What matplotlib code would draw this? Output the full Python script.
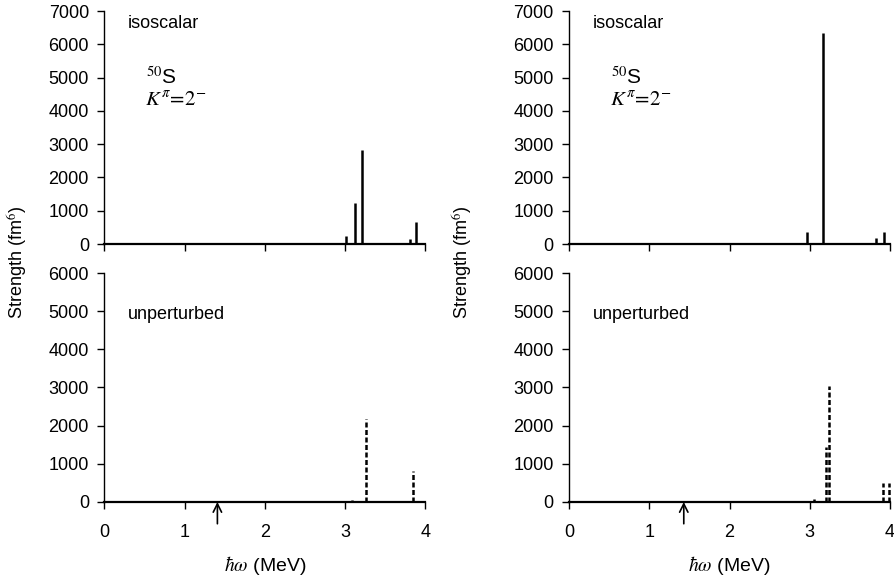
import matplotlib
matplotlib.use("Agg")
import matplotlib.pyplot as plt

plt.rcParams['font.family'] = ['Liberation Sans', 'DejaVu Sans']
plt.rcParams['mathtext.fontset'] = 'stix'

# Data (energies in MeV, strengths in fm^6)
left_top_E = [3.01, 3.13, 3.21, 3.81, 3.89]
left_top_S = [230, 1220, 2820, 140, 650]
right_top_E = [2.97, 3.17, 3.83, 3.93]
right_top_S = [350, 6330, 170, 350]
left_bot_E = [3.09, 3.26, 3.85]
left_bot_S = [50, 2170, 810]
right_bot_E = [3.05, 3.20, 3.24, 3.91, 3.99]
right_bot_S = [90, 1450, 3040, 500, 500]
arrow_E = [1.41, 1.43]

top_yticks = [0, 1000, 2000, 3000, 4000, 5000, 6000, 7000]
bot_yticks = [0, 1000, 2000, 3000, 4000, 5000, 6000]
xticks = [0, 1, 2, 3, 4]

FS = 13
fig = plt.figure(figsize=(8.95, 5.8), dpi=100)

lefts = [0.1165, 0.6358]
width = 0.3586
top_rect = (0.5793, 0.4017)
bot_rect = (0.1345, 0.3948)

cols = [(left_top_E, left_top_S, left_bot_E, left_bot_S),
        (right_top_E, right_top_S, right_bot_E, right_bot_S)]

for i, (tE, tS, bE, bS) in enumerate(cols):
    axt = fig.add_axes([lefts[i], top_rect[0], width, top_rect[1]])
    axb = fig.add_axes([lefts[i], bot_rect[0], width, bot_rect[1]])
    for ax, ymax, yt in ((axt, 7000, top_yticks), (axb, 6000, bot_yticks)):
        ax.set_xlim(0, 4)
        ax.set_ylim(0, ymax)
        ax.set_yticks(yt)
        ax.set_xticks(xticks)
        for s in ('top', 'right'):
            ax.spines[s].set_visible(False)
        ax.spines['left'].set_linewidth(1.0)
        ax.spines['bottom'].set_linewidth(1.6)
        ax.tick_params(direction='out', length=5, width=1.0, labelsize=FS)
        ax.tick_params(axis='y', pad=6)
        ax.tick_params(axis='x', pad=11)
        ax.patch.set_alpha(0)
    axt.set_xticklabels([])
    axt.vlines(tE, 0, tS, colors='black', linewidth=1.8, clip_on=False)
    axb.vlines(bE, 0, bS, colors='black', linewidth=1.8, linestyles=(0, (2, 1)), clip_on=False)

    axt.text(0.074, 0.948, 'isoscalar', transform=axt.transAxes, fontsize=FS,
             va='center', ha='left')
    axt.text(0.13, 0.715, r'$^{50}$S', transform=axt.transAxes, fontsize=15,
             va='center', ha='left')
    axt.text(0.128, 0.615, r'$K^{\pi}\!=\!2^{-}$', transform=axt.transAxes, fontsize=15,
             va='center', ha='left')
    axb.text(0.074, 0.82, 'unperturbed', transform=axb.transAxes, fontsize=FS,
             va='center', ha='left')

    axb.annotate('', xy=(arrow_E[i], 0), xycoords=('data', 'axes fraction'),
                 xytext=(arrow_E[i], -0.095), textcoords=('data', 'axes fraction'),
                 arrowprops=dict(arrowstyle='->', color='black', lw=1.2,
                                 shrinkA=0, shrinkB=0, mutation_scale=15),
                 annotation_clip=False)
    axb.set_xticklabels(['0', '1', '2', '3', '4'])
    axb.set_xlabel(r'$\hbar\omega$ (MeV)', fontsize=14, labelpad=9)

fig.text(18 / 895, 1 - 262 / 580, r'Strength (fm$^{6}$)', rotation=90,
         fontsize=FS, ha='center', va='center')
fig.text(463 / 895, 1 - 262 / 580, r'Strength (fm$^{6}$)', rotation=90,
         fontsize=FS, ha='center', va='center')

fig.savefig('out.png', dpi=100)
